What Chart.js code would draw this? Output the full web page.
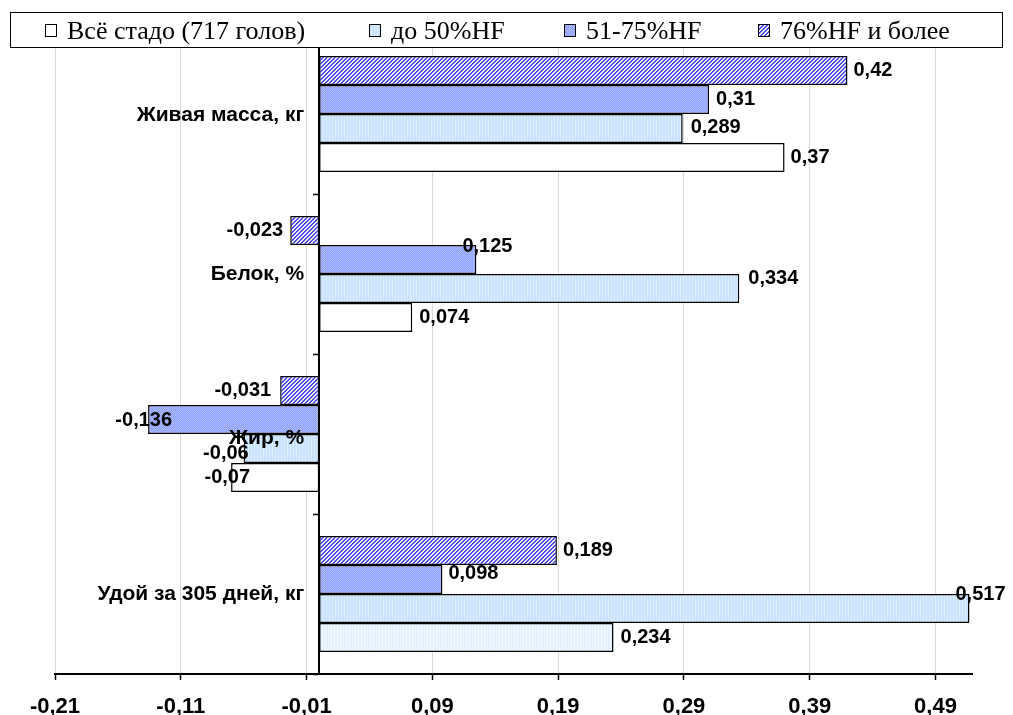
<!DOCTYPE html>
<html lang="ru">
<head>
<meta charset="utf-8">
<title>Коэффициенты корреляции по группам</title>
<script src="https://cdn.jsdelivr.net/npm/chart.js@4.4.1/dist/chart.umd.min.js"></script>
<style>
  html, body { margin: 0; padding: 0; background: #fff; }
  #wrap { position: relative; width: 1013px; height: 715px; }
</style>
</head>
<body>
<div id="wrap"><canvas id="chart" width="1013" height="715"></canvas></div>
<script>
// Traits (top to bottom) and the four herd groups
const categories = ['Живая масса, кг', 'Белок, %', 'Жир, %', 'Удой за 305 дней, кг'];
const seriesNames = ['Всё стадо (717 голов)', 'до 50%HF', '51-75%HF', '76%HF и более'];

// Coefficient per trait, one array per group
const herdAll  = [0.37, 0.074, -0.07, 0.234];
const hfUpTo50 = [0.289, 0.334, -0.06, 0.517];
const hf51to75 = [0.31, 0.125, -0.136, 0.098];
const hf76plus = [0.42, -0.023, -0.031, 0.189];

// Value axis tick labels
const xTicks = [-0.21, -0.11, -0.01, 0.09, 0.19, 0.29, 0.39, 0.49];

// Small nudges of the value labels [dx, dy], per group and trait
const labelShift = {
  herdAll:  [[0, 0], [1, 0], [25, 0], [1, 0]],
  hfUpTo50: [[2, -1], [3, -10], [11, 5], [-20, -14]],
  hf51to75: [[1, 0], [-20, -13], [30, 1], [0, -6]],
  hf76plus: [[0, 0], [-1, 0], [-3, 0], [0, 0]]
};
// Vertical nudges of the trait names
const catShift = [1, 0, 4, 0];

// Fill textures
function makePattern(w, h, paint) {
  const c = document.createElement('canvas');
  c.width = w; c.height = h;
  const g = c.getContext('2d');
  paint(g);
  return g.createPattern(c, 'repeat');
}
const fillDiag = makePattern(4, 4, g => {
  g.fillStyle = '#f0f0ff'; g.fillRect(0, 0, 4, 4);
  g.fillStyle = '#4a4af0';
  for (let i = 0; i < 4; i++) { g.fillRect(i, (3 - i) % 4, 1, 1); g.fillRect(i, (4 - i) % 4, 1, 1); }
});
const fillChecker = makePattern(2, 2, g => {
  g.fillStyle = '#8c9ef6'; g.fillRect(0, 0, 2, 2);
  g.fillStyle = '#adbcff'; g.fillRect(0, 0, 1, 1); g.fillRect(1, 1, 1, 1);
});
const fillStripes = makePattern(3, 1, g => {
  g.fillStyle = '#c9e3ff'; g.fillRect(0, 0, 3, 1);
  g.fillStyle = '#ddeeff'; g.fillRect(2, 0, 1, 1);
});
const fillPale = makePattern(3, 1, g => {
  g.fillStyle = '#e3f1ff'; g.fillRect(0, 0, 3, 1);
  g.fillStyle = '#f1f8ff'; g.fillRect(1, 0, 1, 1);
});

const fmt = v => String(v).replace('.', ',');
const SANS = '"Liberation Sans", Arial, sans-serif';

// Value labels beside the bar ends, trait names beside the zero line
const valueLabels = {
  id: 'valueLabels',
  afterDatasetsDraw(chart) {
    const ctx = chart.ctx;
    ctx.save();
    ctx.fillStyle = '#000';
    ctx.textBaseline = 'middle';

    const ys = chart.scales.y, xs = chart.scales.x;
    const axisX = xs.getPixelForValue(0);
    ctx.font = 'bold 21px ' + SANS;
    ctx.textAlign = 'right';
    categories.forEach((name, i) => {
      ctx.fillText(name, axisX - 15, ys.getPixelForValue(i) + catShift[i]);
    });

    ctx.font = 'bold 20px ' + SANS;
    chart.data.datasets.forEach((ds, di) => {
      const meta = chart.getDatasetMeta(di);
      meta.data.forEach((bar, i) => {
        const v = ds.data[i];
        const [dx, dy] = ds.shift[i];
        if (v >= 0) {
          ctx.textAlign = 'left';
          ctx.fillText(fmt(v), bar.x + 6 + dx, bar.y + dy);
        } else {
          ctx.textAlign = 'right';
          ctx.fillText(fmt(v), bar.x - 6 + dx, bar.y + dy);
        }
      });
    });
    ctx.restore();
  }
};

// Boxed legend across the top
const boxLegend = {
  id: 'boxLegend',
  afterDraw(chart, args, opts) {
    const ctx = chart.ctx;
    ctx.save();
    ctx.fillStyle = '#fff';
    ctx.fillRect(opts.left, opts.top, opts.width, opts.height);
    ctx.strokeStyle = '#000';
    ctx.lineWidth = 1;
    ctx.strokeRect(opts.left + 0.5, opts.top + 0.5, opts.width, opts.height);
    ctx.font = '26px "Liberation Serif", "Times New Roman", serif';
    ctx.textBaseline = 'alphabetic';
    ctx.textAlign = 'left';
    const ds = chart.data.datasets.slice().reverse();
    ds.forEach((d, k) => {
      const tx = opts.textX[k];
      const fill = Array.isArray(d.backgroundColor) ? d.backgroundColor[0] : d.backgroundColor;
      ctx.fillStyle = fill;
      ctx.fillRect(tx - 22, 24, 11, 12);
      ctx.strokeStyle = '#000';
      ctx.strokeRect(tx - 21.5, 24.5, 11, 12);
      ctx.fillStyle = '#000';
      ctx.fillText(d.label, tx, 39);
    });
    ctx.restore();
  }
};

const ctx = document.getElementById('chart').getContext('2d');
new Chart(ctx, {
  type: 'bar',
  data: {
    labels: categories,
    datasets: [
      { label: seriesNames[3], data: hf76plus, backgroundColor: fillDiag, shift: labelShift.hf76plus },
      { label: seriesNames[2], data: hf51to75, backgroundColor: fillChecker, shift: labelShift.hf51to75 },
      { label: seriesNames[1], data: hfUpTo50, backgroundColor: fillStripes, shift: labelShift.hfUpTo50 },
      { label: seriesNames[0], data: herdAll, backgroundColor: ['#ffffff', '#ffffff', '#ffffff', fillPale], shift: labelShift.herdAll }
    ]
  },
  options: {
    indexAxis: 'y',
    responsive: false,
    animation: false,
    devicePixelRatio: 1,
    layout: { padding: { left: 55, right: 41, top: 34, bottom: 0 } },
    datasets: {
      bar: {
        categoryPercentage: 0.725,
        barPercentage: 1,
        borderSkipped: false,
        borderColor: '#000',
        borderWidth: 1.5
      }
    },
    plugins: {
      legend: { display: false },
      tooltip: { enabled: false },
      boxLegend: { left: 10, top: 12, width: 992, height: 35, textX: [67, 391, 586, 780] }
    },
    scales: {
      x: {
        type: 'linear',
        position: 'bottom',
        min: -0.21,
        max: 0.519,
        afterBuildTicks: s => { s.ticks = xTicks.map(v => ({ value: v })); },
        afterFit: s => { s.height = 41; },
        grid: { color: '#d9d9d9', lineWidth: 1, tickColor: '#000', tickLength: 6, tickWidth: 1.5 },
        border: { color: '#000', width: 2 },
        ticks: {
          color: '#000',
          padding: 14,
          font: { family: SANS, size: 22, weight: 'bold' },
          callback: v => v.toFixed(2).replace('.', ',')
        }
      },
      y: {
        type: 'category',
        position: { x: 0 },
        grid: { offset: true, drawOnChartArea: false, tickLength: 5, tickColor: '#000', tickWidth: 1.5 },
        border: { color: '#000', width: 2 },
        ticks: { display: false }
      }
    }
  },
  plugins: [valueLabels, boxLegend]
});
</script>
</body>
</html>
